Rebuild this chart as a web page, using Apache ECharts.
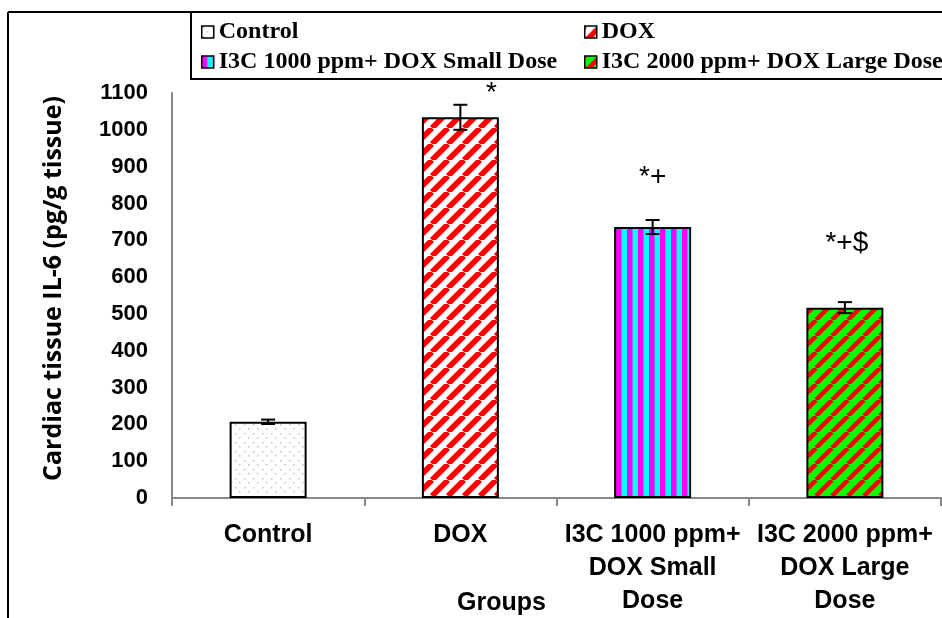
<!DOCTYPE html>
<html>
<head>
<meta charset="utf-8">
<script src="https://cdn.jsdelivr.net/npm/echarts@6/dist/echarts.min.js"></script>
<style>
  html, body { margin: 0; padding: 0; background: #fff; }
  #main { width: 942px; height: 618px; }
</style>
</head>
<body>
<div id="main"></div>
<script>
// data
var groups = ['Control', 'DOX', 'I3C 1000 ppm+ DOX Small Dose', 'I3C 2000 ppm+ DOX Large Dose'];
var axisLabels = ['Control', 'DOX', 'I3C 1000 ppm+\nDOX Small\nDose', 'I3C 2000 ppm+\nDOX Large\nDose'];
var means = [207, 1034, 736, 517];
var errs = [6, 34, 19, 15];
var marks = ['', '*', '*+', '*+$'];
var markY = [0, 1098, 870, 693];
var yTicks = [0, 100, 200, 300, 400, 500, 600, 700, 800, 900, 1000, 1100];

// fill patterns
function tile(w, h, draw) {
    var c = document.createElement('canvas');
    c.width = w; c.height = h;
    draw(c.getContext('2d'), w, h);
    return { image: c, repeat: 'repeat' };
}
function diag(bg, fg, lw) {
    return tile(16, 16, function (g, w, h) {
        g.fillStyle = bg; g.fillRect(0, 0, w, h);
        g.strokeStyle = fg; g.lineWidth = lw;
        [-16, 0, 16].forEach(function (o) {
            g.beginPath(); g.moveTo(o, h); g.lineTo(o + w, 0); g.stroke();
        });
    });
}
var fills = [
    tile(9, 9, function (g, w, h) {
        g.fillStyle = '#fff'; g.fillRect(0, 0, w, h);
        g.fillStyle = '#c4c4c4';
        g.fillRect(1, 1, 1.5, 1.5); g.fillRect(5, 5, 1.5, 1.5);
    }),
    diag('#fff', '#ff0000', 5.5),
    tile(11, 4, function (g, w, h) {
        g.fillStyle = '#00ffff'; g.fillRect(0, 0, w, h);
        g.fillStyle = '#ff00ff'; g.fillRect(0, 0, 5.5, h);
    }),
    diag('#00ff00', '#ff0000', 4.5)
];

var chart = echarts.init(document.getElementById('main'));

var series = groups.map(function (name, i) {
    return {
        name: name,
        type: 'bar',
        stack: 'g',
        barWidth: 77,
        data: means.map(function (v, j) { return j === i ? v : '-'; }),
        itemStyle: { color: fills[i], borderColor: '#000', borderWidth: 2 }
    };
});

series.push({
    type: 'custom',
    z: 5,
    data: means.map(function (v, i) { return [i, v, errs[i]]; }),
    renderItem: function (params, api) {
        var hi = api.coord([api.value(0), api.value(1) + api.value(2)]);
        var lo = api.coord([api.value(0), api.value(1) - api.value(2)]);
        var st = { stroke: '#000', lineWidth: 2 };
        return {
            type: 'group',
            children: [
                { type: 'line', shape: { x1: hi[0], y1: hi[1], x2: lo[0], y2: lo[1] }, style: st },
                { type: 'line', shape: { x1: hi[0] - 7, y1: hi[1], x2: hi[0] + 7, y2: hi[1] }, style: st },
                { type: 'line', shape: { x1: lo[0] - 7, y1: lo[1], x2: lo[0] + 7, y2: lo[1] }, style: st }
            ]
        };
    }
});

var markDx = [0, 31, 0, 2];
series.push({
    type: 'custom',
    z: 6,
    data: marks.map(function (m, i) { return [i, markY[i]]; }),
    renderItem: function (params, api) {
        var i = params.dataIndex;
        var p = api.coord([api.value(0), api.value(1)]);
        return {
            type: 'text',
            style: {
                x: p[0] + markDx[i], y: p[1], text: marks[i],
                align: 'center', verticalAlign: 'middle',
                font: '28px "Liberation Sans", Arial, sans-serif', fill: '#000'
            }
        };
    }
});

var legendText = { fontFamily: '"Liberation Serif", "Times New Roman", serif', fontWeight: 'bold', fontSize: 24, color: '#000' };

var option = {
    animation: false,
    backgroundColor: '#fff',
    textStyle: { fontFamily: '"Liberation Sans", Arial, sans-serif' },
    grid: { left: 172, right: 1, top: 93, bottom: 120, outerBoundsMode: 'none', containLabel: false },
    legend: [
        {
            data: [groups[0], groups[2]], orient: 'vertical', left: 196, top: 15,
            itemWidth: 12, itemHeight: 12, itemGap: 6, itemStyle: { borderWidth: 1.5 }, icon: 'rect',
            textStyle: legendText, selectedMode: false
        },
        {
            data: [groups[1], groups[3]], orient: 'vertical', left: 579, top: 15,
            itemWidth: 12, itemHeight: 12, itemGap: 6, itemStyle: { borderWidth: 1.5 }, icon: 'rect',
            textStyle: legendText, selectedMode: false
        }
    ],
    xAxis: {
        type: 'category',
        data: axisLabels,
        axisLine: { lineStyle: { color: '#888', width: 2 } },
        axisTick: { show: true, length: 8, lineStyle: { color: '#888', width: 2 } },
        axisLabel: {
            interval: 0, margin: 21, color: '#000', fontWeight: 'bold', fontSize: 25,
            lineHeight: 33, verticalAlign: 'top'
        }
    },
    yAxis: {
        type: 'value',
        min: 0, max: 1100, interval: 100,
        name: 'Cardiac tissue IL-6 (pg/g tissue)',
        nameLocation: 'middle',
        nameGap: 106,
        nameRotate: 90,
        nameTextStyle: { fontFamily: '"Open Sans", sans-serif', fontWeight: 'bold', fontSize: 25, color: '#000', padding: [0, 0, 0, 14] },
        axisLine: { show: true, lineStyle: { color: '#888', width: 2 } },
        axisTick: { show: false },
        splitLine: { show: false },
        axisLabel: {
            margin: 24, color: '#000', fontWeight: 'bold', fontSize: 22,
            formatter: function (v) { return yTicks.indexOf(v) >= 0 ? String(v) : ''; }
        }
    },
    graphic: [
        { type: 'line', z: -1, shape: { x1: 8, y1: 12, x2: 8, y2: 620 }, style: { stroke: '#000', lineWidth: 2 } },
        { type: 'line', z: -1, shape: { x1: 8, y1: 12, x2: 191, y2: 12 }, style: { stroke: '#000', lineWidth: 2 } },
        { type: 'rect', z: -1, shape: { x: 191, y: 12, width: 780, height: 67 }, style: { fill: '#fff', stroke: '#000', lineWidth: 2 } },
        {
            type: 'text', left: 457, top: 591,
            style: { text: 'Groups', font: 'bold 25px "Liberation Sans", Arial, sans-serif', fill: '#000' }
        }
    ],
    series: series
};

chart.setOption(option);
</script>
</body>
</html>
